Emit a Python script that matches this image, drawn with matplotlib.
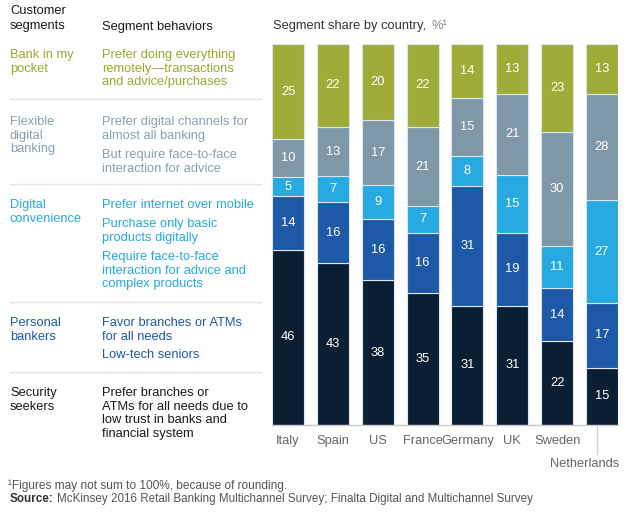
import matplotlib
matplotlib.use("Agg")
import matplotlib.pyplot as plt
import numpy as np

plt.rcParams["font.family"] = ["Liberation Sans", "DejaVu Sans"]

# data (bottom to top of each bar)
countries = ["Italy", "Spain", "US", "France", "Germany", "UK", "Sweden", "Netherlands"]
segments = ["Security seekers", "Personal bankers", "Digital convenience",
            "Flexible digital banking", "Bank in my pocket"]
security = [46, 43, 38, 35, 31, 31, 22, 15]
personal = [14, 16, 16, 16, 31, 19, 14, 17]
digital_conv = [5, 7, 9, 7, 8, 15, 11, 27]
flexible = [10, 13, 17, 21, 15, 21, 30, 28]
pocket = [25, 22, 20, 22, 14, 13, 23, 13]

COLORS = ["#0b1f34", "#1d59a6", "#27a9e1", "#7f98a7", "#9fac38"]
TEXT_COLORS = ["#1a1a1a", "#1d59a6", "#27a9e1", "#8aa0ad", "#9aa92e"]

W, H = 640, 517
fig = plt.figure(figsize=(W / 100, H / 100), dpi=100)


def fx(x):
    return x / W


def fy(y):
    return 1 - y / H


def ftext(x, y, s, **kw):
    kw.setdefault("fontsize", 9.3)
    kw.setdefault("va", "top")
    kw.setdefault("linespacing", 1.17)
    return fig.text(fx(x), fy(y), s, **kw)


# ---- left table ----
ftext(10, 5, "Customer\nsegments", color="#1a1a1a", linespacing=1.28)
ftext(102, 21, "Segment behaviors", color="#1a1a1a")

rows = [
    (49, "Bank in my\npocket", [(49, "Prefer doing everything\nremotely\u2014transactions\nand advice/purchases")], 4),
    (116, "Flexible\ndigital\nbanking", [(116, "Prefer digital channels for\nalmost all banking"),
                                        (149, "But require face-to-face\ninteraction for advice")], 3),
    (199, "Digital\nconvenience", [(199, "Prefer internet over mobile"),
                                   (218, "Purchase only basic\nproducts digitally"),
                                   (251, "Require face-to-face\ninteraction for advice and\ncomplex products")], 2),
    (317, "Personal\nbankers", [(317, "Favor branches or ATMs\nfor all needs"),
                                (349, "Low-tech seniors")], 1),
    (387, "Security\nseekers", [(387, "Prefer branches or\nATMs for all needs due to\nlow trust in banks and\nfinancial system")], 0),
]
for y, name, behaviors, ci in rows:
    ftext(10, y, name, color=TEXT_COLORS[ci])
    for by, b in behaviors:
        ftext(102, by, b, color=TEXT_COLORS[ci])

for ly in [99, 184, 302, 372]:
    fig.add_artist(plt.Line2D([fx(10), fx(261)], [fy(ly), fy(ly)], color="#e3e3e3", lw=1))

# ---- stacked bars ----
ax = fig.add_axes([fx(272), fy(425), fx(618) - fx(272), fy(44) - fy(425)])
data = np.array([security, personal, digital_conv, flexible, pocket], dtype=float)
totals = data.sum(axis=0)
shares = data / totals * 100
x = np.arange(len(countries))
bottom = np.zeros(len(countries))
for i in range(len(segments)):
    ax.bar(x, shares[i], bottom=bottom, width=0.713, color=COLORS[i],
           edgecolor="#dde6ec", linewidth=0.8)
    for xi, (b, h, v) in enumerate(zip(bottom, shares[i], data[i])):
        ax.text(xi, b + h / 2, f"{int(v)}", ha="center", va="center",
                color="white", fontsize=9.3)
    bottom += shares[i]

ax.set_xlim(-0.357, len(countries) - 1 + 0.357)
ax.set_ylim(0, 100)
ax.axis("off")
ax.plot([-0.357, len(countries) - 1 + 0.357], [0, 0], color="#c8c8c8", lw=1, clip_on=False)

for xi, c in enumerate(countries[:-1]):
    ax.annotate(c, (xi, 0), xytext=(0, -7.5), textcoords="offset points",
                ha="center", va="top", fontsize=9.3, color="#666666")
# Netherlands label dropped below with a leader line
ax.annotate(countries[-1], (len(countries) - 1, 0), xytext=(-12.5, -24),
            textcoords="offset points", ha="center", va="top", fontsize=9.3, color="#666666")
fig.add_artist(plt.Line2D([fx(597), fx(597)], [fy(426), fy(454)], color="#d0d0d0", lw=1))

ftext(273, 20, "Segment share by country,", color="#333333")
ftext(432, 20, "%\u00b9", color="#888888")

# ---- footnotes ----
ftext(8, 480, "\u00b9Figures may not sum to 100%, because of rounding.", fontsize=8.6, color="#555555")
src = ftext(10, 493, "Source:", fontsize=8.4, color="#333333", fontweight="bold")
renderer = fig.canvas.get_renderer()
src_right = src.get_window_extent(renderer).x1
ftext(src_right + 3, 493,
      "McKinsey 2016 Retail Banking Multichannel Survey; Finalta Digital and Multichannel Survey",
      fontsize=8.4, color="#555555")

fig.savefig("out.png", dpi=100, facecolor="white")
